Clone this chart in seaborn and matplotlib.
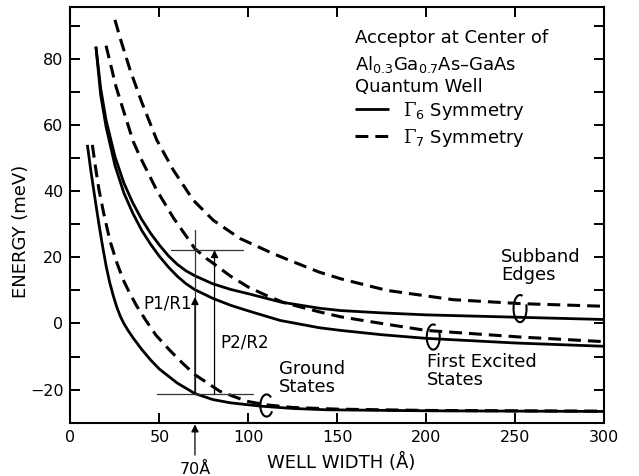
import numpy as np
import pandas as pd
import matplotlib
matplotlib.use("Agg")
import matplotlib.pyplot as plt
from matplotlib.patches import Arc
from matplotlib.transforms import blended_transform_factory
import seaborn as sns

# ---------------- data ----------------
# Ground states
ground_g6_x = [9.5, 11.5, 14, 16, 18, 20, 22, 24, 26, 28, 30, 32.5, 35, 40, 45, 50, 60, 70, 80, 90, 107, 125, 144, 200, 300]
ground_g6_y = [54, 46, 37, 30, 23.5, 17.5, 12.5, 8.5, 5, 2.2, 0, -2.2, -4.2, -7.8, -11, -13.8, -18, -21.2, -23, -24, -25, -25.7, -26.1, -26.4, -26.6]
ground_g7_x = [12.3, 14, 16, 18.8, 22.2, 26.3, 30, 33, 37, 42.3, 48, 56, 63, 70, 84, 99, 110, 125, 150, 200, 300]
ground_g7_y = [54, 47.5, 40.5, 33, 25, 18, 12.8, 9.5, 5.5, 1, -3.5, -8.2, -12, -15.5, -20.5, -23.5, -24.6, -25.4, -25.9, -26.3, -26.5]
# First excited states
excit_g6_x = [14.3, 17, 20, 25, 30, 35, 40, 45, 50, 55, 60, 65, 70, 80, 90, 100, 118, 140, 152, 175, 200, 250, 300]
excit_g6_y = [83.7, 69, 59.5, 47.8, 39.5, 33.4, 28.2, 24, 20.3, 17.1, 14.3, 12, 10.2, 7.6, 5.5, 3.8, 0.9, -1.3, -2.1, -3.4, -4.5, -5.9, -6.9]
excit_g7_x = [20, 25.6, 30.3, 35.3, 39.1, 48.5, 57.8, 70, 76.6, 80, 90, 100, 110, 120, 140, 152, 175, 200, 253, 300]
excit_g7_y = [84, 71.6, 63.5, 55, 50.4, 40.3, 32, 22.6, 19.6, 18.3, 14.3, 11, 8.5, 6.3, 3.5, 2, 0, -2.1, -4.1, -5.5]
# Subband edges
edge_g6_x = [14.3, 17, 20, 25, 30, 35, 40, 45, 50, 55, 60, 65, 70, 80, 90, 100, 118, 140, 152, 175, 200, 250, 300]
edge_g6_y = [83.7, 71, 61.5, 50.5, 42.5, 36.5, 31.5, 27.3, 23.7, 20.5, 17.9, 15.9, 14.4, 12, 10.3, 9, 6.5, 4.6, 3.9, 3.2, 2.6, 1.9, 1.2]
edge_g7_x = [25, 28.2, 33.5, 40, 48.5, 57.8, 69, 80.3, 95.3, 114, 125, 140, 152, 178, 215, 253, 300]
edge_g7_y = [91.8, 85.8, 76.7, 67, 55.5, 46.4, 37.3, 31.2, 25.7, 21.1, 18.7, 15.5, 13.5, 10, 7.2, 6, 5.2]

x_ticks = [0, 50, 100, 150, 200, 250, 300]
y_ticks = [-20, -10, 0, 10, 20, 30, 40, 50, 60, 70, 80, 90]
y_tick_labels = ["\u221220", "", "0", "", "20", "", "40", "", "60", "", "80", ""]

# transition markers at 70 Angstrom
well_70 = 70
p2_x = 81
ground_level = -21.3
p1_top = 8
p2_top = 22.2
# ----------------------------------------------------------------

sns.set_style("ticks")
plt.rcParams["font.family"] = ["DejaVu Sans"]
plt.rcParams["mathtext.fontset"] = "custom"
plt.rcParams["mathtext.rm"] = "DejaVu Serif"
plt.rcParams["mathtext.sf"] = "DejaVu Sans"
plt.rcParams["mathtext.it"] = "DejaVu Serif:italic"
plt.rcParams["mathtext.bf"] = "DejaVu Serif:bold"
for k in ["text.color", "axes.labelcolor", "xtick.color", "ytick.color", "axes.edgecolor"]:
    plt.rcParams[k] = "black"

fig = plt.figure(figsize=(6.39, 4.76), dpi=100)
ax = fig.add_axes([0.1103, 0.1120, 0.8349, 0.8727])

solid = dict(color="black", lw=2.0, linestyle="-")
dashed = dict(color="black", lw=2.2, linestyle=(0, (4.2, 2.3)))

curves = [
    (ground_g6_x, ground_g6_y, solid, r"$\Gamma_\mathsf{6}$ Symmetry"),
    (excit_g6_x, excit_g6_y, solid, "_nolegend_"),
    (edge_g6_x, edge_g6_y, solid, "_nolegend_"),
    (ground_g7_x, ground_g7_y, dashed, r"$\Gamma_\mathsf{7}$ Symmetry"),
    (excit_g7_x, excit_g7_y, dashed, "_nolegend_"),
    (edge_g7_x, edge_g7_y, dashed, "_nolegend_"),
]
for xs, ys, sty, lab in curves:
    df = pd.DataFrame({"x": xs, "y": ys})
    sns.lineplot(data=df, x="x", y="y", ax=ax, errorbar=None, label=lab,
                 solid_capstyle="butt", dash_capstyle="butt",
                 solid_joinstyle="round", **sty)

ax.set_xlim(0, 300)
ax.set_ylim(-30, 95.6)
ax.set_xticks(x_ticks)
ax.set_yticks(y_ticks)
ax.set_yticklabels(y_tick_labels)
ax.tick_params(direction="in", length=7, width=1.4, top=True, right=True,
               labelsize=11.5, pad=5, colors="black")
for s in ax.spines.values():
    s.set_linewidth(1.5)
    s.set_color("black")

tfs = 13
ax.set_xlabel("WELL WIDTH (\u00c5)", fontsize=tfs)
ax.set_ylabel("ENERGY (meV)", fontsize=tfs)
ax.xaxis.set_label_coords(0.507, -0.072)
ax.yaxis.set_label_coords(-0.075, 0.46)

# legend
leg = ax.legend(loc="upper left", bbox_to_anchor=(0.533, 0.778), frameon=False,
                fontsize=tfs, handlelength=1.9, handletextpad=0.75,
                borderpad=0, borderaxespad=0, labelspacing=0.28)

# title block
ax.text(160, 86.2, "Acceptor at Center of", fontsize=tfs, va="center", ha="left")
ax.text(160, 78.2, "Al$_\\mathsf{0.3}$Ga$_\\mathsf{0.7}$As\u2013GaAs",
        fontsize=tfs, va="center", ha="left")
ax.text(160, 71.4, "Quantum Well", fontsize=tfs, va="center", ha="left")

# annotation lines
thin = dict(color="#333333", lw=0.9)
ax.plot([56.5, 96.8], [p2_top, p2_top], **thin)
ax.plot([48.5, 102.5], [ground_level, ground_level], **thin)
ax.plot([well_70, well_70], [ground_level, 28.2], **thin)
arrow = dict(arrowstyle="-|>", lw=0.9, color="black", mutation_scale=11, shrinkA=0, shrinkB=0)
ax.annotate("", xy=(well_70, p1_top), xytext=(well_70, ground_level), arrowprops=arrow)
ax.annotate("", xy=(p2_x, p2_top), xytext=(p2_x, ground_level), arrowprops=arrow)
bt = blended_transform_factory(ax.transData, ax.transAxes)
ax.annotate("", xy=(well_70, -0.004), xytext=(well_70, -0.078),
            xycoords=bt, textcoords=bt, arrowprops=arrow, annotation_clip=False)
ax.text(well_70, -0.113, "70\u00c5", transform=bt, fontsize=11.5,
        ha="center", va="center", clip_on=False)

ax.text(68.3, 6.1, "P1/R1", fontsize=12, ha="right", va="center")
ax.text(84.5, -5.9, "P2/R2", fontsize=12, ha="left", va="center")
ax.text(117.4, -16.4, "Ground\nStates", fontsize=tfs, ha="left", va="center", linespacing=1.0)
ax.text(200.3, -14.5, "First Excited\nStates", fontsize=tfs, ha="left", va="center", linespacing=1.0)
ax.text(242, 17.3, "Subband\nEdges", fontsize=tfs, ha="left", va="center", linespacing=1.0)

# group ellipses
for (cx, cy, w, h, t1, t2) in [(110.3, -24.8, 7.1, 6.7, 45, 330),
                               (204, -4.1, 7.3, 7.6, 70, 380),
                               (252.8, 4.5, 7.3, 8.2, 70, 380)]:
    ax.add_patch(Arc((cx, cy), w, h, theta1=t1, theta2=t2, lw=1.5, color="black"))

fig.savefig("out.png", dpi=100)
